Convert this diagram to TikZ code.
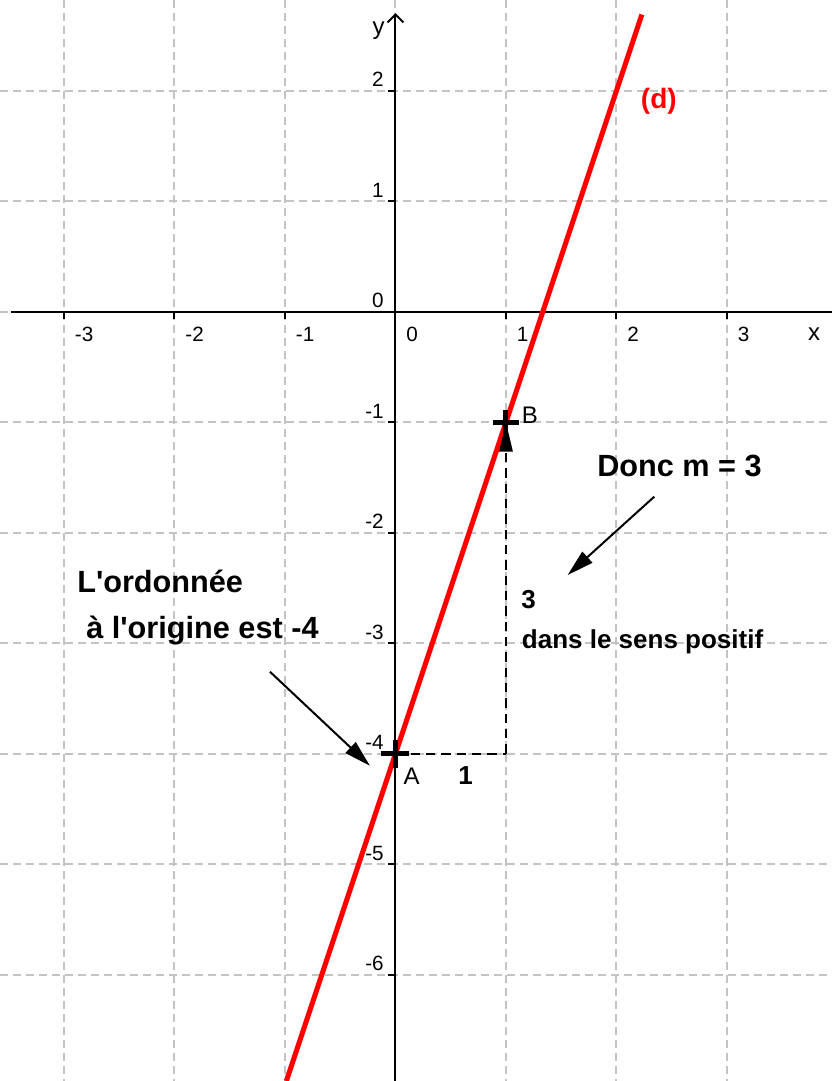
\documentclass[tikz,border=0pt]{standalone}
\usepackage{fontspec}
\setmainfont{Liberation Sans}[Ligatures=TeXOff]
\usetikzlibrary{arrows.meta}
\definecolor{gridgray}{RGB}{195,195,195}
\definecolor{dred}{RGB}{255,0,0}
\begin{document}
\begin{tikzpicture}[x=82.875pt,y=82.875pt,
  gridline/.style={gridgray, line width=1.5pt, dash pattern=on 6pt off 3.75pt},
  axisline/.style={black, line width=1.5pt},
  tickmark/.style={black, line width=1.5pt},
  ticklbl/.style={inner sep=0pt, font=\fontsize{15.5pt}{18pt}\selectfont},
  axislbl/.style={inner sep=0pt, font=\fontsize{18pt}{20pt}\selectfont},
  ptlbl/.style={inner sep=0pt, font=\fontsize{18pt}{20pt}\selectfont},
  bigtxt/.style={inner sep=0pt, anchor=base west, font=\fontsize{23pt}{27pt}\selectfont\bfseries},
  midtxt/.style={inner sep=0pt, anchor=base west, font=\fontsize{19.5pt}{23pt}\selectfont\bfseries},
  redline/.style={dred, line width=3.75pt},
  dashline/.style={black, line width=1.5pt, dash pattern=on 7pt off 4.5pt},
  crossmark/.style={black, line width=3.75pt},
  annot/.style={black, line width=1.5pt, -{Triangle[length=20pt,width=11pt]}}
]
\useasboundingbox (-3.579,-6.962) rectangle (3.950,2.821);
% grid
\foreach \i in {-3,...,3} \draw[gridline] (\i,2.821) -- (\i,-6.962);
\foreach \j in {-6,...,2} \draw[gridline] (-3.579,\j) -- (3.950,\j);
% axes
\coordinate (xl) at (-3.48,0);
\coordinate (xr) at (3.950,0);
\coordinate (yb) at (0,-6.962);
\coordinate (yt) at (0,2.703);
\draw[axisline] (xl) -- (xr);
\draw[axisline, -{Straight Barb[length=6pt,width=12pt]}] (yb) -- (yt);
\foreach \i in {-3,-2,-1,1,2,3} \draw[tickmark] (\i,0) -- (\i,-0.07);
\foreach \j in {-6,...,-1,1,2} \draw[tickmark] (0,\j) -- (-0.07,\j);
% tick labels
\foreach \i in {-3,...,3} \node[ticklbl, anchor=base west] (tx\i) at (\i+0.097,-0.271) {\i};
\foreach \j in {-6,...,2} \node[ticklbl, anchor=base east] (ty\j) at (-0.104,\j+0.036) {\j};
\node[axislbl, anchor=base west] (xlab) at (3.733,-0.257) {x};
\node[axislbl, anchor=base east] (ylab) at (-0.095,2.51) {y};
% line (d)
\coordinate (d1) at (-0.98733,-6.962);
\coordinate (d2) at (2.2300,2.690);
\draw[redline] (d1) -- (d2);
\node[inner sep=0pt, anchor=base west, text=dred, font=\fontsize{21pt}{24pt}\selectfont\bfseries] (dlab) at (2.219,1.841) {(d)};
% points
\coordinate (A) at (0,-4);
\coordinate (B) at (1,-1);
\coordinate (C) at (1,-4);
\draw[dashline] (A) -- (C);
\draw[dashline, -{Triangle[length=22pt,width=10pt]}] (C) -- (B);
\draw[crossmark] ([xshift=-10.5pt]A) -- ([xshift=10.5pt]A);
\draw[crossmark] ([yshift=-10.5pt]A) -- ([yshift=10.5pt]A);
\draw[crossmark] ([xshift=-9.5pt]B) -- ([xshift=9.5pt]B);
\draw[crossmark] ([yshift=-9.5pt]B) -- ([yshift=9.5pt]B);
\node[ptlbl, anchor=base west] (lA) at (0.071,-4.283) {A};
\node[ptlbl, anchor=base west] (lB) at (1.142,-1.01) {B};
% texts
\node[bigtxt] (ord1) at (-2.882,-2.541) {L'ordonnée};
\node[bigtxt] (ord2) at (-2.80,-2.956) {à l'origine est -4};
\node[bigtxt] (donc) at (1.824,-1.493) {Donc m = 3};
\node[midtxt] (three) at (1.136,-2.684) {3};
\node[midtxt] (sens) at (1.142,-3.046) {dans le sens positif};
\node[midtxt] (one) at (0.568,-4.283) {1};
% annotation arrows
\coordinate (s1) at (-1.136,-3.258);
\coordinate (t1) at (-0.231,-4.109);
\coordinate (s2) at (2.342,-1.674);
\coordinate (t2) at (1.558,-2.383);
\draw[annot] (s1) -- (t1);
\draw[annot] (s2) -- (t2);
\end{tikzpicture}
\end{document}
